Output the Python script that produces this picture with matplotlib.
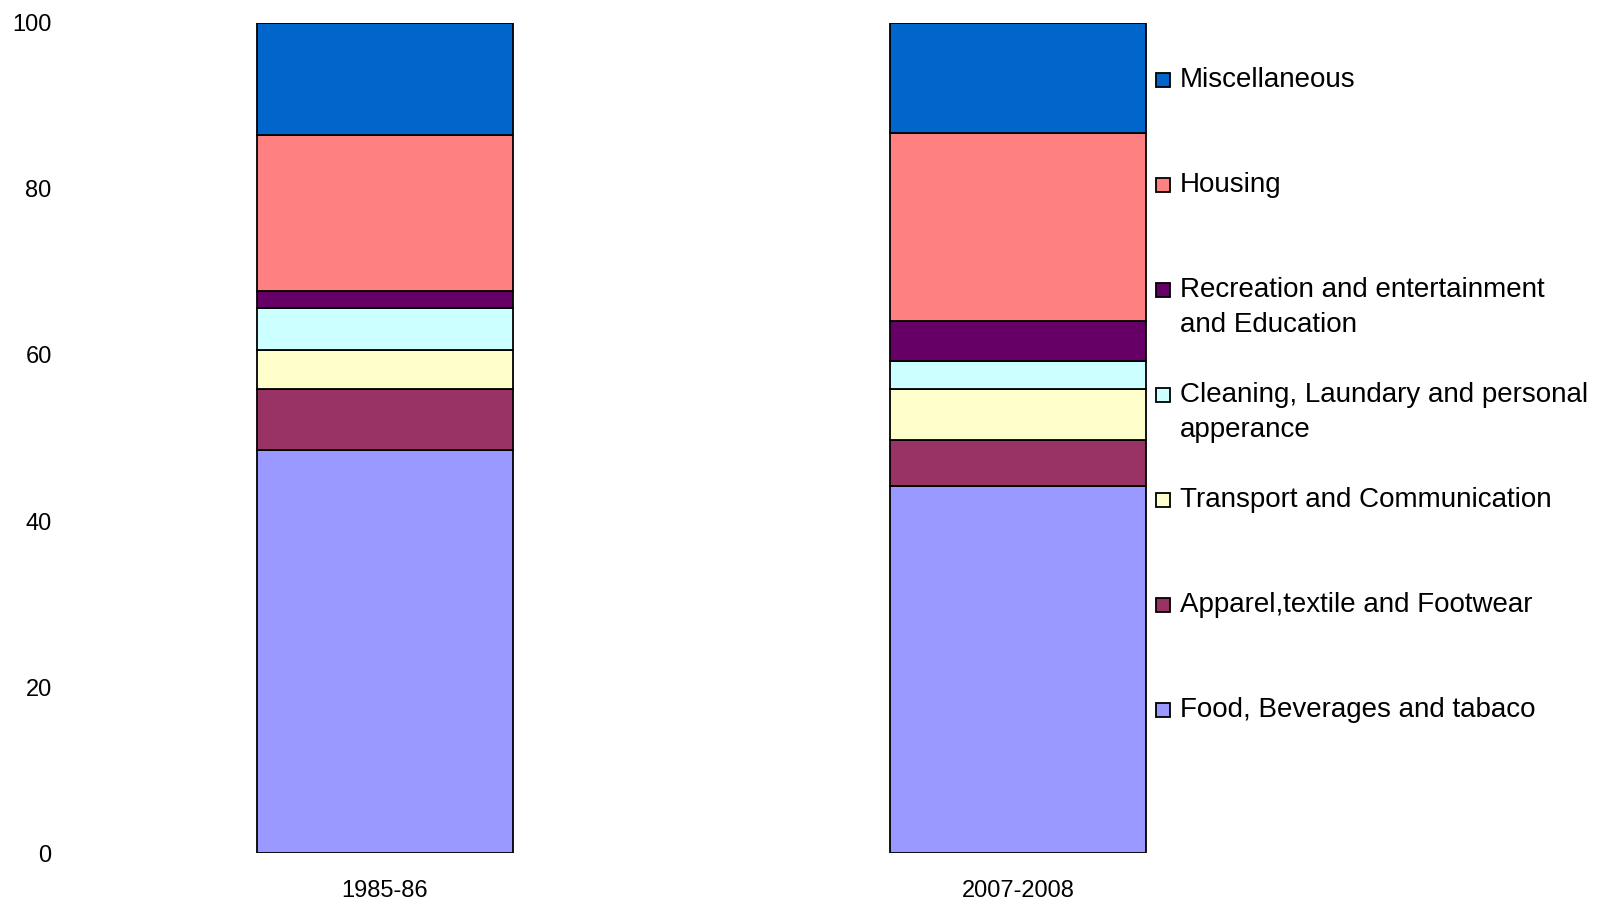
import matplotlib
matplotlib.use('Agg')
import matplotlib.pyplot as plt
from matplotlib.patches import Rectangle

plt.rcParams['font.family'] = ['Liberation Sans', 'DejaVu Sans']

# Share of household expenditure (%), stacked from the bottom up
periods = ['1985-86', '2007-2008']
categories = ['Food, Beverages and tabaco',
              'Apparel,textile and Footwear',
              'Transport and Communication',
              'Cleaning, Laundary and personal\napperance',
              'Recreation and entertainment\nand Education',
              'Housing',
              'Miscellaneous']
food = [48.6, 44.2]
apparel = [7.35, 5.5]
transport = [4.7, 6.25]
cleaning = [5.0, 3.35]
recreation = [2.1, 4.75]
housing = [18.75, 22.65]
misc = [13.5, 13.3]

series = [food, apparel, transport, cleaning, recreation, housing, misc]
colors = ['#9999FF', '#993366', '#FFFFCC', '#CCFFFF', '#660066', '#FF8080', '#0066CC']

fig = plt.figure(figsize=(16.02, 9.0), dpi=100)
ax = fig.add_axes([60 / 1602, 46.7 / 900, 1090 / 1602, 830.6 / 900])

x = list(range(len(periods)))
bottom = [0.0] * len(periods)
for vals, col in zip(series, colors):
    ax.bar(x, vals, width=0.403, bottom=bottom, color=col,
           edgecolor='black', linewidth=1.3)
    bottom = [b + v for b, v in zip(bottom, vals)]

ax.set_xlim(-0.5134, 1.2085)
ax.set_ylim(0, 100)
ax.set_yticks([0, 20, 40, 60, 80, 100])
ax.set_xticks(x)
ax.set_xticklabels(periods)
ax.tick_params(axis='both', length=0, labelsize=17)
ax.tick_params(axis='y', pad=6)
ax.tick_params(axis='x', pad=19)
for s in ax.spines.values():
    s.set_visible(False)

# legend drawn by hand (Excel style: evenly spaced entries, top to bottom)
y0, step = 77.6, 104.9
for i, (lab, col) in enumerate(zip(categories[::-1], colors[::-1])):
    yc = y0 + i * step
    fig.patches.append(Rectangle((1156 / 1602, 1 - (yc + 9.5) / 900), 14 / 1602, 14 / 900,
                                 transform=fig.transFigure, facecolor=col,
                                 edgecolor='black', linewidth=1.3))
    fig.text(1180 / 1602, 1 - (yc - 10.5) / 900, lab, fontsize=20,
             va='top', ha='left', linespacing=1.45)

fig.savefig('out.png', dpi=100)
